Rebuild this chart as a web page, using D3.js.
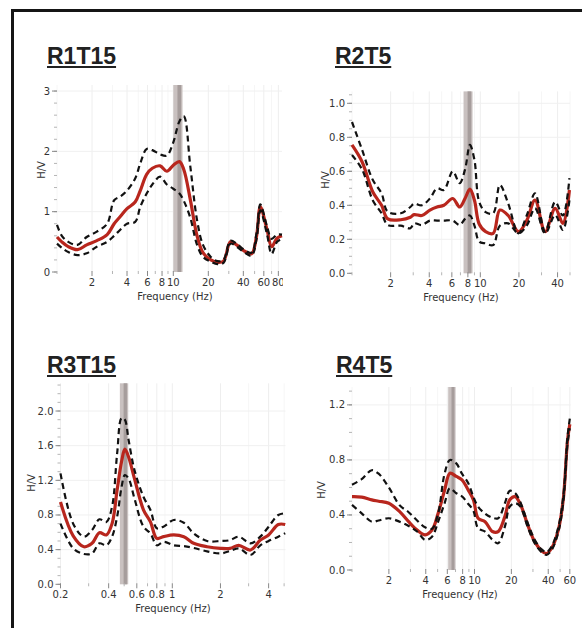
<!DOCTYPE html>
<html>
<head>
<meta charset="utf-8">
<script src="https://cdn.jsdelivr.net/npm/d3@7"></script>
<style>
  body { margin: 0; background: #fff; }
  svg { display: block; }
</style>
</head>
<body>
<script>
// ---- data ----
var r1Freq  = [1.0, 1.1, 1.25, 1.5, 1.8, 2.2, 2.7, 3.1, 3.5, 4.0, 4.7, 5.2, 5.9, 6.6, 7.7, 8.8, 10, 11.3, 12.3, 14, 16, 18, 21, 24, 27, 31, 35, 40, 47, 52, 56, 64, 70, 78, 86];
var r1Mean  = [0.58, 0.5, 0.42, 0.37, 0.45, 0.52, 0.62, 0.8, 0.92, 1.05, 1.16, 1.35, 1.62, 1.72, 1.76, 1.67, 1.77, 1.83, 1.7, 1.2, 0.6, 0.32, 0.2, 0.16, 0.18, 0.5, 0.45, 0.36, 0.3, 0.6, 1.08, 0.7, 0.42, 0.56, 0.6];
var r1Upper = [0.78, 0.6, 0.5, 0.45, 0.58, 0.67, 0.8, 1.19, 1.25, 1.35, 1.55, 1.8, 2.04, 2.02, 1.95, 1.93, 2.15, 2.5, 2.58, 1.75, 0.86, 0.45, 0.25, 0.18, 0.2, 0.52, 0.47, 0.38, 0.32, 0.65, 1.12, 0.75, 0.55, 0.62, 0.62];
var r1Lower = [0.47, 0.4, 0.33, 0.28, 0.31, 0.42, 0.5, 0.6, 0.7, 0.8, 0.83, 1.08, 1.3, 1.45, 1.58, 1.45, 1.38, 1.3, 1.18, 0.9, 0.45, 0.25, 0.17, 0.13, 0.15, 0.47, 0.42, 0.34, 0.27, 0.55, 1.02, 0.62, 0.3, 0.5, 0.55];
var r1Band  = [10, 12];
var r1XTicks = [2, 4, 6, 8, 10, 20, 40, 60, 80];
var r1YTicks = [0, 1, 2, 3];

var r2Freq  = [1.0, 1.2, 1.45, 1.7, 1.9, 2.4, 2.85, 3.05, 3.5, 4.05, 4.6, 5.2, 6.1, 6.9, 7.6, 8.3, 9.0, 9.8, 11, 12.6, 14.2, 16.5, 19.8, 23, 26.7, 32, 38.3, 44, 49.5];
var r2Mean  = [0.755, 0.655, 0.48, 0.4, 0.32, 0.315, 0.33, 0.345, 0.34, 0.372, 0.39, 0.4, 0.44, 0.39, 0.44, 0.495, 0.43, 0.29, 0.245, 0.235, 0.372, 0.34, 0.245, 0.31, 0.43, 0.245, 0.382, 0.294, 0.49];
var r2Upper = [0.89, 0.725, 0.55, 0.47, 0.362, 0.353, 0.39, 0.41, 0.4, 0.44, 0.5, 0.49, 0.6, 0.53, 0.61, 0.755, 0.667, 0.42, 0.36, 0.353, 0.52, 0.41, 0.235, 0.34, 0.47, 0.245, 0.42, 0.34, 0.56];
var r2Lower = [0.696, 0.61, 0.43, 0.353, 0.284, 0.28, 0.265, 0.294, 0.284, 0.31, 0.31, 0.31, 0.31, 0.284, 0.32, 0.34, 0.28, 0.186, 0.176, 0.166, 0.28, 0.294, 0.235, 0.28, 0.382, 0.235, 0.343, 0.255, 0.43];
var r2Band  = [7.4, 8.7];
var r2XTicks = [2, 4, 6, 8, 10, 20, 40];
var r2YTicks = [0, 0.2, 0.4, 0.6, 0.8, 1.0];

var r3Freq  = [0.2, 0.24, 0.28, 0.315, 0.35, 0.387, 0.42, 0.452, 0.482, 0.505, 0.533, 0.58, 0.66, 0.73, 0.8, 0.88, 1.02, 1.18, 1.36, 1.65, 2.0, 2.3, 2.6, 3.08, 3.55, 4.0, 4.6, 5.08];
var r3Mean  = [0.95, 0.56, 0.434, 0.473, 0.596, 0.57, 0.7, 1.09, 1.42, 1.56, 1.47, 1.22, 0.86, 0.72, 0.53, 0.55, 0.57, 0.55, 0.473, 0.434, 0.415, 0.415, 0.45, 0.396, 0.51, 0.57, 0.69, 0.69];
var r3Upper = [1.28, 0.7, 0.55, 0.627, 0.75, 0.72, 0.895, 1.51, 1.92, 1.9, 1.665, 1.32, 1.01, 0.857, 0.646, 0.665, 0.742, 0.71, 0.588, 0.5, 0.5, 0.51, 0.55, 0.473, 0.55, 0.665, 0.8, 0.82];
var r3Lower = [0.7, 0.415, 0.35, 0.356, 0.473, 0.45, 0.55, 0.78, 1.126, 1.26, 1.22, 0.99, 0.665, 0.588, 0.45, 0.49, 0.45, 0.44, 0.42, 0.38, 0.356, 0.385, 0.415, 0.338, 0.45, 0.5, 0.55, 0.59];
var r3Band  = [0.47, 0.53];
var r3XTicks = [0.2, 0.4, 0.6, 0.8, 1, 2, 4];
var r3YTicks = [0, 0.4, 0.8, 1.2, 1.6, 2.0];

var r4Freq  = [1.0, 1.2, 1.45, 1.65, 2.0, 2.45, 2.9, 3.4, 3.95, 4.5, 5.05, 5.7, 6.3, 7.1, 7.9, 8.9, 9.8, 10.7, 12.2, 14.0, 15.6, 17.7, 19.4, 21.4, 23.5, 27.5, 31, 35.3, 38.7, 42.6, 48.3, 53, 57.5, 60];
var r4Mean  = [0.533, 0.53, 0.51, 0.5, 0.485, 0.424, 0.351, 0.29, 0.255, 0.29, 0.412, 0.58, 0.703, 0.68, 0.655, 0.58, 0.51, 0.376, 0.351, 0.28, 0.279, 0.388, 0.51, 0.533, 0.485, 0.315, 0.206, 0.14, 0.12, 0.158, 0.29, 0.51, 0.945, 1.06];
var r4Upper = [0.62, 0.66, 0.725, 0.7, 0.6, 0.47, 0.42, 0.36, 0.31, 0.3, 0.412, 0.7, 0.8, 0.775, 0.7, 0.63, 0.53, 0.46, 0.41, 0.38, 0.376, 0.485, 0.575, 0.56, 0.5, 0.33, 0.22, 0.15, 0.13, 0.17, 0.31, 0.53, 0.97, 1.1];
var r4Lower = [0.473, 0.412, 0.351, 0.36, 0.376, 0.351, 0.32, 0.28, 0.218, 0.242, 0.351, 0.485, 0.594, 0.558, 0.535, 0.48, 0.43, 0.303, 0.279, 0.22, 0.194, 0.315, 0.46, 0.485, 0.465, 0.3, 0.195, 0.13, 0.11, 0.145, 0.275, 0.49, 0.92, 1.03];
var r4Band  = [6.1, 7.0];
var r4XTicks = [2, 4, 6, 8, 10, 20, 40, 60];
var r4YTicks = [0, 0.4, 0.8, 1.2];

// ---- layout ----
var panels = [
  { title: "R1T15", freq: r1Freq, mean: r1Mean, upper: r1Upper, lower: r1Lower, band: r1Band,
    xTicks: r1XTicks, yTicks: r1YTicks, yFmt: d3.format("d"), yMinor: 0.2,
    xDomain: [1, 86], xRange: [57, 282], yDomain: [0, 3.1], yRange: [272, 85],
    titleX: 47, titleY: 64, ylabX: 41.5, ylabY: 170, xlabX: 175, clipRight: 283 },
  { title: "R2T5", freq: r2Freq, mean: r2Mean, upper: r2Upper, lower: r2Lower, band: r2Band,
    xTicks: r2XTicks, yTicks: r2YTicks, yFmt: d3.format(".1f"), yMinor: 0.05,
    xDomain: [1, 50], xRange: [352, 570], yDomain: [0, 1.07], yRange: [273.3, 91.4],
    titleX: 335, titleY: 64, ylabX: 325, ylabY: 180, xlabX: 461, clipRight: 582 },
  { title: "R3T15", freq: r3Freq, mean: r3Mean, upper: r3Upper, lower: r3Lower, band: r3Band,
    xTicks: r3XTicks, yTicks: r3YTicks, yFmt: d3.format(".1f"), yMinor: 0.1,
    xDomain: [0.2, 5.1], xRange: [60.5, 285.5], yDomain: [0, 2.32], yRange: [584.3, 383.3],
    titleX: 47, titleY: 373, ylabX: 31.5, ylabY: 483, xlabX: 173, clipRight: 300 },
  { title: "R4T5", freq: r4Freq, mean: r4Mean, upper: r4Upper, lower: r4Lower, band: r4Band,
    xTicks: r4XTicks, yTicks: r4YTicks, yFmt: d3.format(".1f"), yMinor: 0.1,
    xDomain: [1, 61], xRange: [352, 570.7], yDomain: [0, 1.33], yRange: [570, 387],
    titleX: 336, titleY: 373, ylabX: 321.5, ylabY: 490, xlabX: 460, clipRight: 582 }
];

var font = "'DejaVu Sans', Verdana, sans-serif";

var svg = d3.select("body")
            .append("svg")
            .attr("width", 582)
            .attr("height", 628);

svg.append("rect")
   .attr("width", 582).attr("height", 628)
   .attr("fill", "#fff");

// outer frame (right and bottom run off the picture)
svg.append("rect")
   .attr("x", 12.5).attr("y", 10.5)
   .attr("width", 640).attr("height", 660)
   .attr("fill", "none")
   .attr("stroke", "#151515")
   .attr("stroke-width", 3);

function isMajor(list, v) {
  return list.some(function(t){ return Math.abs(t - v) / t < 1e-6; });
}

panels.forEach(function(p, pi){
  var x = d3.scaleLog().domain(p.xDomain).range(p.xRange);
  var y = d3.scaleLinear().domain(p.yDomain).range(p.yRange);
  var top = p.yRange[1], bottom = p.yRange[0], left = p.xRange[0], right = p.xRange[1];

  var clipId = "clip" + pi;
  svg.append("clipPath").attr("id", clipId)
     .append("rect").attr("x", 0).attr("y", 0)
     .attr("width", p.clipRight).attr("height", 628);

  var g = svg.append("g").attr("clip-path", "url(#" + clipId + ")");

  var xMinor = x.ticks();
  var yMinor = d3.range(0, p.yDomain[1] + 1e-9, p.yMinor);

  // faint grid
  g.selectAll(".vgrid")
   .data(xMinor)
   .enter().append("line")
   .attr("x1", function(d){ return x(d); })
   .attr("x2", function(d){ return x(d); })
   .attr("y1", top).attr("y2", bottom)
   .attr("stroke", function(d){ return isMajor(p.xTicks, d) ? "#eeeeee" : "#f6f6f6"; })
   .attr("stroke-width", 1);

  g.selectAll(".hgrid")
   .data(p.yTicks.slice(1))
   .enter().append("line")
   .attr("x1", left).attr("x2", right)
   .attr("y1", function(d){ return y(d); })
   .attr("y2", function(d){ return y(d); })
   .attr("stroke", "#f0f0f0")
   .attr("stroke-width", 1);

  // resonance band
  var bx0 = x(p.band[0]), bx1 = x(p.band[1]), bw = bx1 - bx0;
  g.append("rect")
   .attr("x", bx0).attr("y", top)
   .attr("width", bw).attr("height", bottom - top)
   .attr("fill", "#c9c1c0");
  g.append("rect")
   .attr("x", bx0 + bw * 0.45).attr("y", top)
   .attr("width", bw * 0.4).attr("height", bottom - top)
   .attr("fill", "#a69d9c");

  // y ticks
  g.selectAll(".yminor")
   .data(yMinor)
   .enter().append("line")
   .attr("x1", left - 3).attr("x2", left)
   .attr("y1", function(d){ return y(d); })
   .attr("y2", function(d){ return y(d); })
   .attr("stroke", "#b5b5b5");

  g.selectAll(".ymajor")
   .data(p.yTicks)
   .enter().append("line")
   .attr("x1", left - 5).attr("x2", left)
   .attr("y1", function(d){ return y(d); })
   .attr("y2", function(d){ return y(d); })
   .attr("stroke", "#888");

  g.selectAll(".ylab")
   .data(p.yTicks)
   .enter().append("text")
   .text(function(d){ return p.yFmt(d); })
   .attr("x", left - 7)
   .attr("y", function(d){ return y(d) + 3.5; })
   .attr("text-anchor", "end")
   .attr("font-family", font)
   .attr("font-size", "10px")
   .attr("fill", "#333");

  // x ticks
  g.selectAll(".xminor")
   .data(xMinor)
   .enter().append("line")
   .attr("x1", function(d){ return x(d); })
   .attr("x2", function(d){ return x(d); })
   .attr("y1", bottom - 1)
   .attr("y2", function(d){ return isMajor(p.xTicks, d) ? bottom + 4 : bottom + 2; })
   .attr("stroke", function(d){ return isMajor(p.xTicks, d) ? "#888" : "#b5b5b5"; });

  g.selectAll(".xlab")
   .data(p.xTicks)
   .enter().append("text")
   .text(function(d){ return d; })
   .attr("x", function(d){ return x(d); })
   .attr("y", bottom + 14)
   .attr("text-anchor", "middle")
   .attr("font-family", font)
   .attr("font-size", "10px")
   .attr("fill", "#333");

  // axis titles
  g.append("text")
   .text("Frequency (Hz)")
   .attr("x", p.xlabX).attr("y", bottom + 27.5)
   .attr("text-anchor", "middle")
   .attr("font-family", font)
   .attr("font-size", "10px")
   .attr("fill", "#333");

  g.append("text")
   .text("H/V")
   .attr("transform", "translate(" + (p.ylabX + 3.5) + "," + p.ylabY + ") rotate(-90)")
   .attr("text-anchor", "middle")
   .attr("font-family", font)
   .attr("font-size", "10px")
   .attr("fill", "#333");

  // curves
  var idx = d3.range(p.freq.length);
  function lineFor(vals) {
    return d3.line()
             .x(function(i){ return x(p.freq[i]); })
             .y(function(i){ return y(vals[i]); })
             .curve(d3.curveCatmullRom.alpha(0.5))(idx);
  }

  g.append("path")
   .attr("d", lineFor(p.mean))
   .attr("fill", "none")
   .attr("stroke", "#b8261d")
   .attr("stroke-width", 3.2)
   .attr("stroke-linejoin", "round");

  [p.upper, p.lower].forEach(function(vals){
    g.append("path")
     .attr("d", lineFor(vals))
     .attr("fill", "none")
     .attr("stroke", "#111")
     .attr("stroke-width", 2.2)
     .attr("stroke-dasharray", "6,4");
  });

  // panel title
  var t = svg.append("text")
     .text(p.title)
     .attr("x", p.titleX).attr("y", p.titleY)
     .attr("font-family", "'Liberation Sans', Arial, sans-serif")
     .attr("font-weight", "bold")
     .attr("font-size", "23px")
     .attr("fill", "#222");
  var tw = t.node().getComputedTextLength();
  svg.append("line")
     .attr("x1", p.titleX).attr("x2", p.titleX + tw)
     .attr("y1", p.titleY + 3).attr("y2", p.titleY + 3)
     .attr("stroke", "#222")
     .attr("stroke-width", 2);
});
</script>
</body>
</html>
